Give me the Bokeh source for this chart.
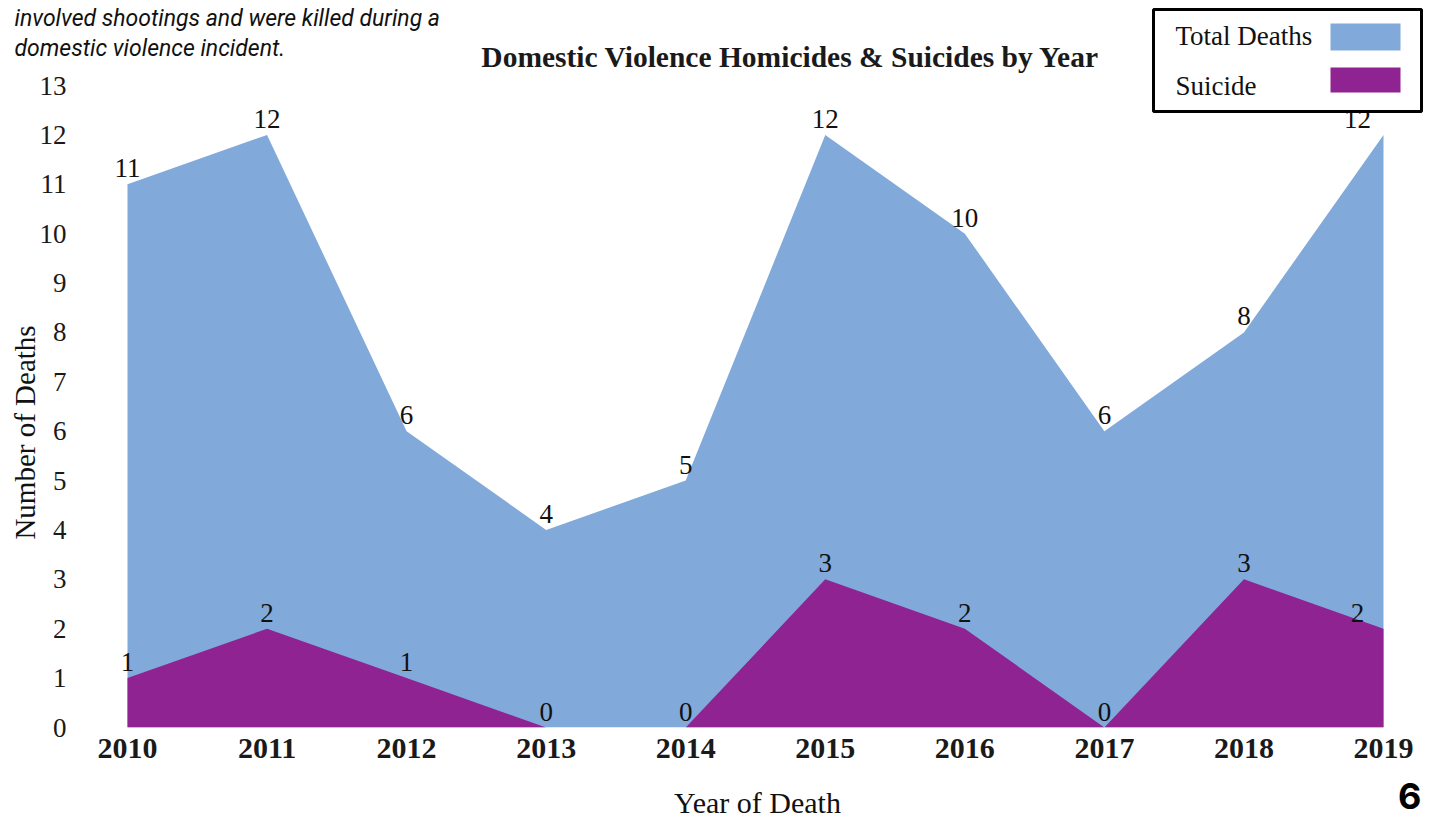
import math
from bokeh.plotting import figure
from bokeh.layouts import column
from bokeh.models import Range1d, FixedTicker, Label, BoxAnnotation, ColumnDataSource, GridBox
from bokeh.core.properties import value
from bokeh.embed import file_html
from bokeh.resources import INLINE

# ---------------- data ----------------
years = [2010, 2011, 2012, 2013, 2014, 2015, 2016, 2017, 2018, 2019]
total_deaths = [11, 12, 6, 4, 5, 12, 10, 6, 8, 12]
suicides = [1, 2, 1, 0, 0, 3, 2, 0, 3, 2]
y_ticks = list(range(0, 14))
series_names = ["Total Deaths", "Suicide"]
chart_title = "Domestic Violence Homicides & Suicides by Year"
x_title = "Year of Death"
y_title = "Number of Deaths"
caption_lines = ["involved shootings and were killed during a",
                 "domestic violence incident."]
page_number = "6"

# ---------------- style ----------------
BLUE = "#81A9DA"
PURPLE = "#8F2392"
SERIF = "Liberation Serif"
W, H = 1429, 818

# pixel geometry of the plotting frame
FR_LEFT, FR_RIGHT, FR_TOP, FR_BOTTOM = 105, W, 0, 727
PX_X_FIRST, PX_X_LAST = 127, 1383
PX_Y13 = 85
ppx = (PX_X_LAST - PX_X_FIRST) / (years[-1] - years[0])
ppy = (FR_BOTTOM - PX_Y13) / 13.0
x_start = years[0] - (PX_X_FIRST - FR_LEFT) / ppx
x_end = years[-1] + (FR_RIGHT - PX_X_LAST) / ppx
y_end = 13 + (PX_Y13 - FR_TOP) / ppy

# ---------------- main chart ----------------
p = figure(width=W, height=H,
           x_range=Range1d(x_start, x_end), y_range=Range1d(0, y_end),
           output_backend="svg", toolbar_location=None,
           min_border_left=FR_LEFT, min_border_right=0,
           min_border_top=0, min_border_bottom=H - FR_BOTTOM,
           outline_line_color=None, background_fill_color="white",
           border_fill_color="white")
p.grid.visible = False

p.xaxis.ticker = FixedTicker(ticks=years)
p.xaxis.axis_line_color = None
p.xaxis.major_tick_line_color = None
p.xaxis.major_tick_out = 0
p.xaxis.minor_tick_line_color = None
p.xaxis.major_label_text_font = SERIF
p.xaxis.major_label_text_font_style = "bold"
p.xaxis.major_label_text_font_size = "30px"
p.xaxis.major_label_text_color = "#1a1a1a"
p.xaxis.major_label_standoff = 11

p.yaxis.ticker = FixedTicker(ticks=y_ticks)
p.yaxis.axis_line_color = None
p.yaxis.major_tick_line_color = None
p.yaxis.major_tick_out = 0
p.yaxis.minor_tick_line_color = None
p.yaxis.major_label_text_font = SERIF
p.yaxis.major_label_text_font_size = "27px"
p.yaxis.major_label_text_color = "#1a1a1a"
p.yaxis.major_label_standoff = 39

p.varea(x=years, y1=0, y2=total_deaths, fill_color=BLUE, fill_alpha=1.0)
p.varea(x=years, y1=0, y2=suicides, fill_color=PURPLE, fill_alpha=1.0)

n = len(years)
dx = [0] * (n - 1) + [-26]
for vals in (total_deaths, suicides):
    src = ColumnDataSource(dict(x=years, y=vals, t=[str(v) for v in vals], dx=dx))
    p.text(x="x", y="y", text="t", x_offset="dx", y_offset=-7, source=src,
           text_align="center", text_baseline="bottom",
           text_font=value(SERIF), text_font_size="27px", text_color="#111111")

# ---------------- transparent overlay for page texts & legend ----------------
ov = figure(width=W, height=H, x_range=Range1d(0, W), y_range=Range1d(H, 0),
            output_backend="svg", toolbar_location=None,
            x_axis_type=None, y_axis_type=None,
            min_border=0, min_border_left=0, min_border_right=0,
            min_border_top=0, min_border_bottom=0,
            outline_line_color=None, background_fill_alpha=0,
            border_fill_alpha=0)
ov.grid.visible = False

ov.add_layout(Label(x=790, y=56, text=chart_title, text_align="center",
                    text_baseline="middle", text_font=SERIF, text_font_style="bold",
                    text_font_size="29.5px", text_color="#1a1a1a"))
ov.add_layout(Label(x=757, y=802, text=x_title, text_align="center",
                    text_baseline="middle", text_font=SERIF,
                    text_font_size="30px", text_color="#111111"))
ov.add_layout(Label(x=24, y=432, text=y_title, text_align="center",
                    text_baseline="middle", angle=math.pi / 2, text_font=SERIF,
                    text_font_size="29px", text_color="#111111"))
for i, line in enumerate(caption_lines):
    ov.add_layout(Label(x=14, y=18 + 30 * i, text=line, text_align="left",
                        text_baseline="middle", text_font="Roboto",
                        text_font_style="italic", text_font_size="23px",
                        text_color="#111111"))
ov.add_layout(Label(x=1421, y=795, text=page_number, text_align="right",
                    text_baseline="middle", text_font="Inter",
                    text_font_style="bold", text_font_size="36px",
                    text_color="#000000"))

ov.add_layout(BoxAnnotation(left=1153, right=1421, top=9, bottom=111,
                            fill_color="white", fill_alpha=1.0,
                            line_color="black", line_alpha=1.0, line_width=3))
swatches = [(BLUE, 23, 50), (PURPLE, 67, 92)]
for (col, t, b), name, ty in zip(swatches, series_names, (35, 85)):
    ov.add_layout(BoxAnnotation(left=1330, right=1400, top=t, bottom=b,
                                fill_color=col, fill_alpha=1.0, line_color=None))
    ov.add_layout(Label(x=1175, y=ty, text=name, text_align="left",
                        text_baseline="middle", text_font=SERIF,
                        text_font_size="27px", text_color="#111111"))

layout = GridBox(children=[(column(p, width=W, height=H), 0, 0),
                           (column(ov, width=W, height=H), 0, 0)])
open("out.html", "w").write(file_html(layout, INLINE))
